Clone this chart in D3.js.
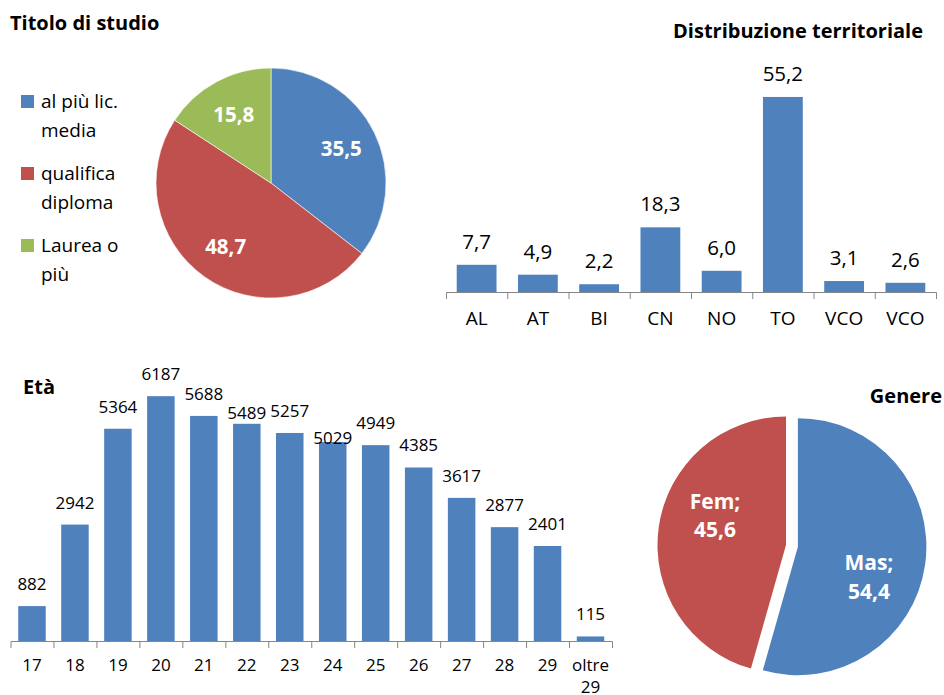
<!DOCTYPE html>
<html>
<head>
<meta charset="utf-8">
<script src="https://cdn.jsdelivr.net/npm/d3@7"></script>
<style>
  body { margin: 0; background: #fff; }
  svg { display: block; font-family: "Open Sans", sans-serif; }
</style>
</head>
<body>
<svg width="944" height="695"></svg>
<script>
// Titolo di studio (pie)
const studyLegend = [["al più lic.", "media"], ["qualifica", "diploma"], ["Laurea o", "più"]];
const studyValues = [35.5, 48.7, 15.8];

// Distribuzione territoriale (bars)
const regions = ["AL", "AT", "BI", "CN", "NO", "TO", "VCO", "VCO"];
const regionValues = [7.7, 4.9, 2.2, 18.3, 6.0, 55.2, 3.1, 2.6];

// Età (bars)
const ages = ["17", "18", "19", "20", "21", "22", "23", "24", "25", "26", "27", "28", "29", "oltre 29"];
const ageValues = [882, 2942, 5364, 6187, 5688, 5489, 5257, 5029, 4949, 4385, 3617, 2877, 2401, 115];

// Genere (pie)
const genders = ["Mas", "Fem"];
const genderValues = [54.4, 45.6];

const blue = "#4F81BD", red = "#C0504D", green = "#9BBB59", axisGrey = "#868686";

const svg = d3.select("svg");
const it = d3.formatLocale({ decimal: ",", thousands: ".", grouping: [3], currency: ["", "€"] });
const f1 = it.format(".1f");

// ---------- Titolo di studio ----------
svg.append("text")
  .attr("x", 10).attr("y", 30)
  .style("font-weight", "bold").style("font-size", "20px")
  .text("Titolo di studio");

const pie1 = d3.pie().sort(null).value(d => d);
const r1 = 115;
const arc1 = d3.arc().innerRadius(0).outerRadius(r1);
const lab1 = d3.arc().innerRadius(r1 * 0.68).outerRadius(r1 * 0.68);
const studyColors = [blue, red, green];

const g1 = svg.append("g").attr("transform", "translate(271,183)");
const arcs1 = pie1(studyValues);
g1.selectAll("path")
  .data(arcs1)
  .join("path")
  .attr("d", arc1)
  .attr("fill", (d, i) => studyColors[i])
  .attr("stroke", "#fff").attr("stroke-width", 0.6);

g1.selectAll("text")
  .data(arcs1)
  .join("text")
  .attr("transform", d => `translate(${lab1.centroid(d)})`)
  .attr("text-anchor", "middle")
  .attr("dy", "0.36em")
  .style("fill", "#fff").style("font-weight", "bold").style("font-size", "20.5px")
  .text(d => f1(d.data));

// legend
const leg = svg.append("g").attr("transform", "translate(21,95)");
const legItems = leg.selectAll("g")
  .data(studyLegend)
  .join("g")
  .attr("transform", (d, i) => `translate(0, ${i * 72})`);
legItems.append("rect")
  .attr("width", 13).attr("height", 13)
  .attr("fill", (d, i) => studyColors[i]);
legItems.append("text")
  .attr("x", 20).attr("y", 13)
  .style("font-size", "19px")
  .selectAll("tspan")
  .data(d => d)
  .join("tspan")
  .attr("x", 20)
  .attr("dy", (d, i) => i === 0 ? 0 : 28.5)
  .text(d => d);

// ---------- Distribuzione territoriale ----------
svg.append("text")
  .attr("x", 923).attr("y", 38)
  .attr("text-anchor", "end")
  .style("font-weight", "bold").style("font-size", "20px")
  .text("Distribuzione territoriale");

const x2 = d3.scaleBand()
  .domain(d3.range(regions.length))
  .range([446, 936])
  .paddingInner(0.35).paddingOuter(0.175);
const y2 = d3.scaleLinear().domain([0, 60]).range([292, 80]);

const g2 = svg.append("g");
g2.selectAll("rect")
  .data(regionValues)
  .join("rect")
  .attr("x", (d, i) => x2(i))
  .attr("y", d => y2(d))
  .attr("width", x2.bandwidth())
  .attr("height", d => y2(0) - y2(d))
  .attr("fill", blue);

g2.selectAll("text.val")
  .data(regionValues)
  .join("text")
  .attr("class", "val")
  .attr("x", (d, i) => x2(i) + x2.bandwidth() / 2)
  .attr("y", d => y2(d) - 16)
  .attr("text-anchor", "middle")
  .style("font-size", "20.5px")
  .text(d => f1(d));

const ax2 = g2.append("g")
  .attr("transform", `translate(0,${y2(0)})`)
  .call(d3.axisBottom(x2).tickSize(0).tickSizeOuter(7).tickPadding(20).tickFormat(i => regions[i]));
ax2.select(".domain").attr("stroke", axisGrey);
ax2.selectAll("text").style("font-size", "19px").style("font-family", "'Open Sans', sans-serif").attr("fill", "#000");
ax2.selectAll("line.sep")
  .data(d3.range(1, regions.length))
  .join("line")
  .attr("class", "sep")
  .attr("x1", i => x2(i) - x2.step() * x2.paddingInner() / 2 + 0.5)
  .attr("x2", i => x2(i) - x2.step() * x2.paddingInner() / 2 + 0.5)
  .attr("y1", 0).attr("y2", 7)
  .attr("stroke", axisGrey);

// ---------- Età ----------
svg.append("text")
  .attr("x", 23).attr("y", 394)
  .style("font-weight", "bold").style("font-size", "20px")
  .text("Età");

// Excel moved a couple of labels down to avoid overlaps
const ageLabelNudge = { "22": 11, "24": 18 };

const x3 = d3.scaleBand()
  .domain(ages)
  .range([10.5, 612])
  .paddingInner(0.36).paddingOuter(0.18);
const y3 = d3.scaleLinear().domain([0, 7000]).range([641, 364]);

const g3 = svg.append("g");
g3.selectAll("rect")
  .data(ageValues)
  .join("rect")
  .attr("x", (d, i) => x3(ages[i]))
  .attr("y", d => y3(d))
  .attr("width", x3.bandwidth())
  .attr("height", d => y3(0) - y3(d))
  .attr("fill", blue);

g3.selectAll("text.val")
  .data(ageValues)
  .join("text")
  .attr("class", "val")
  .attr("x", (d, i) => x3(ages[i]) + x3.bandwidth() / 2)
  .attr("y", (d, i) => y3(d) - 16 + (ageLabelNudge[ages[i]] || 0))
  .attr("text-anchor", "middle")
  .style("font-size", "17px")
  .text(d => d3.format("d")(d));

const ax3 = g3.append("g")
  .attr("transform", `translate(0,${y3(0)})`)
  .call(d3.axisBottom(x3).tickSize(0).tickSizeOuter(7).tickPadding(18));
ax3.select(".domain").attr("stroke", axisGrey);
ax3.selectAll(".tick text")
  .style("font-size", "17px").style("font-family", "'Open Sans', sans-serif").attr("fill", "#000")
  .each(function (d) {
    const t = d3.select(this);
    const words = d.split(" ");
    if (words.length > 1) {
      t.text(null);
      words.forEach((w, k) => {
        t.append("tspan").attr("x", 0).attr("dy", k === 0 ? "0.71em" : "1.3em").text(w);
      });
      t.attr("dy", null);
    }
  });
ax3.selectAll("line.sep")
  .data(ages.slice(1))
  .join("line")
  .attr("class", "sep")
  .attr("x1", a => x3(a) - x3.step() * x3.paddingInner() / 2 + 0.5)
  .attr("x2", a => x3(a) - x3.step() * x3.paddingInner() / 2 + 0.5)
  .attr("y1", 0).attr("y2", 7)
  .attr("stroke", axisGrey);

// ---------- Genere ----------
svg.append("text")
  .attr("x", 942).attr("y", 403)
  .attr("text-anchor", "end")
  .style("font-weight", "bold").style("font-size", "20px")
  .text("Genere");

const r4 = 128.5;
const explode = [12, 0];
const labelTurn = 15 * Math.PI / 180;
const arc4 = d3.arc().innerRadius(0).outerRadius(r4);
const genderColors = [blue, red];
const arcs4 = d3.pie().sort(null).value(d => d)(genderValues);

const g4 = svg.append("g").attr("transform", "translate(786,545)");
const slices = g4.selectAll("g")
  .data(arcs4)
  .join("g")
  .attr("transform", (d, i) => {
    const a = (d.startAngle + d.endAngle) / 2;
    return `translate(${Math.sin(a) * explode[i]},${-Math.cos(a) * explode[i]})`;
  });
slices.append("path")
  .attr("d", arc4)
  .attr("fill", (d, i) => genderColors[i]);
slices.append("text")
  .attr("text-anchor", "middle")
  .attr("transform", d => {
    const a = (d.startAngle + d.endAngle) / 2 + labelTurn;
    const rr = r4 * 0.6;
    return `translate(${Math.sin(a) * rr},${-Math.cos(a) * rr})`;
  })
  .style("fill", "#fff").style("font-weight", "bold").style("font-size", "21px")
  .selectAll("tspan")
  .data((d, i) => [genders[i] + ";", f1(d.data)])
  .join("tspan")
  .attr("x", 0)
  .attr("dy", (d, k) => k === 0 ? "-0.3em" : "1.35em")
  .text(d => d);
</script>
</body>
</html>
